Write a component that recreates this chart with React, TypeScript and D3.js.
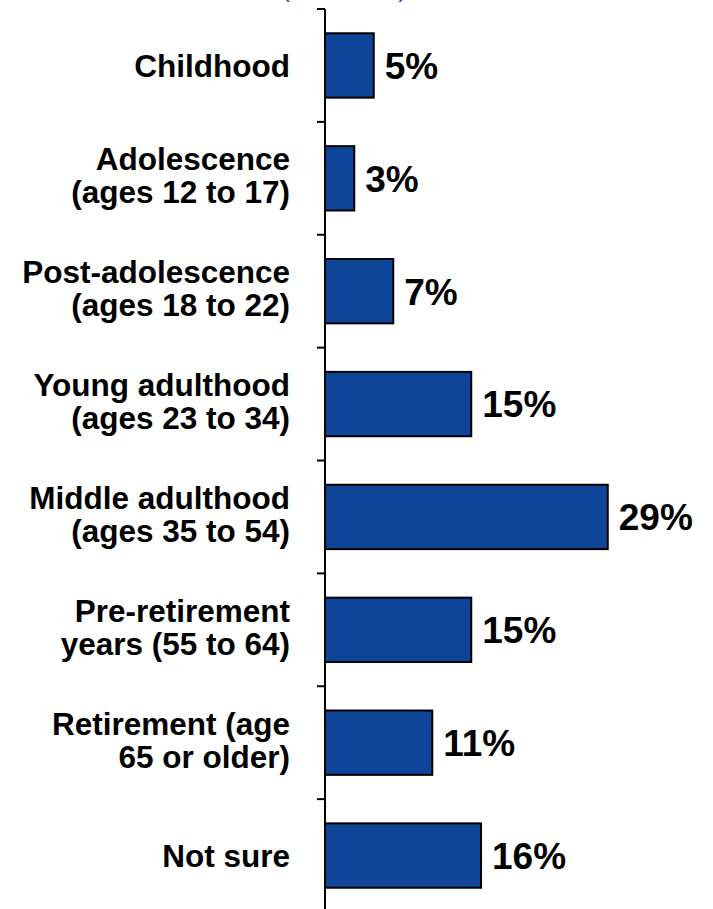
import React from "react";
import * as d3 from "d3";

const categories: string[][] = [
  ["Childhood"],
  ["Adolescence", "(ages 12 to 17)"],
  ["Post-adolescence", "(ages 18 to 22)"],
  ["Young adulthood", "(ages 23 to 34)"],
  ["Middle adulthood", "(ages 35 to 54)"],
  ["Pre-retirement", "years (55 to 64)"],
  ["Retirement (age", "65 or older)"],
  ["Not sure"],
];
const values: number[] = [5, 3, 7, 15, 29, 15, 11, 16];
const valueLabels: string[] = ["5%", "3%", "7%", "15%", "29%", "15%", "11%", "16%"];
const topNote = "(% of total)";

const W = 713;
const H = 909;
const FONT = "'Liberation Sans', Arial, Helvetica, sans-serif";

export default function App() {
  const axisX = 325;
  const y = d3
    .scaleBand<number>()
    .domain(values.map((_, i) => i))
    .range([9, 912])
    .paddingInner(0.43)
    .paddingOuter(0.215);
  const x = d3.scaleLinear().domain([0, 30]).range([axisX, axisX + 292.5]);
  const step = y.step();
  const y0 = 9;
  const tickYs = d3.range(values.length + 1).map((i) => y0 + i * step);

  return (
    <svg
      width={W}
      height={H}
      style={{ position: "absolute", left: 0, top: 0, display: "block", background: "#fff" }}
      fontFamily={FONT}
    >
      <rect x={0} y={0} width={W} height={H} fill="#fff" />
      <text x={344} y={-3} textAnchor="middle" fontSize={26} fill="#1F4FBF">
        {topNote}
      </text>
      {values.map((v, i) => {
        const by = y(i)!;
        const bh = y.bandwidth();
        const cy = by + bh / 2;
        const lines = categories[i];
        const lh = 33;
        const startY = cy - ((lines.length - 1) * lh) / 2 - (lines.length > 1 ? 3 : 0);
        return (
          <g key={i}>
            <rect
              x={x(0)}
              y={by}
              width={x(v) - x(0)}
              height={bh}
              fill="#0E4599"
              stroke="#000"
              strokeWidth={2}
            />
            <text
              x={x(v) + 11}
              y={cy}
              dy="0.36em"
              fontSize={37}
              fontWeight="bold"
              fill="#000"
            >
              {valueLabels[i]}
            </text>
            <text textAnchor="end" fontSize={31.5} fontWeight="bold" fill="#000">
              {lines.map((l, j) => (
                <tspan key={j} x={290} y={startY + j * lh} dy="0.36em">
                  {l}
                </tspan>
              ))}
            </text>
          </g>
        );
      })}
      <line x1={axisX} x2={axisX} y1={tickYs[0]} y2={H} stroke="#000" strokeWidth={2} />
      {tickYs.map((ty, i) => (
        <line key={i} x1={317} x2={axisX} y1={ty} y2={ty} stroke="#000" strokeWidth={2} />
      ))}
    </svg>
  );
}
